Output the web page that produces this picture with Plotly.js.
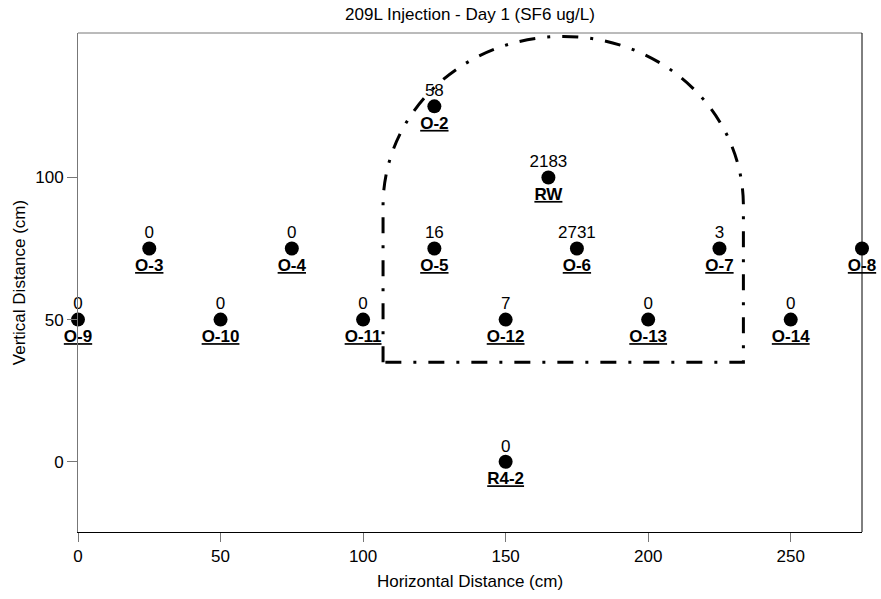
<!DOCTYPE html>
<html>
<head>
<meta charset="utf-8">
<script src="https://cdn.plot.ly/plotly-3.0.1.min.js"></script>
<style>html,body{margin:0;padding:0;background:#fff;}#chart{width:881px;height:599px;}</style>
</head>
<body>
<div id="chart"></div>
<script>
// Well names, positions (cm) and SF6 concentrations (ug/L)
var wellNames = ["O-2","RW","O-3","O-4","O-5","O-6","O-7","O-8","O-9","O-10","O-11","O-12","O-13","O-14","R4-2"];
var wellX     = [125, 165, 25, 75, 125, 175, 225, 275, 0, 50, 100, 150, 200, 250, 150];
var wellY     = [125, 100, 75, 75, 75, 75, 75, 75, 50, 50, 50, 50, 50, 50, 0];
var sf6Values = ["58","2183","0","0","16","2731","3","","0","0","0","7","0","0","0"];

// Zone outline (dash-dot): rectangle bottom with elliptical top
var zoneLeft = 107, zoneRight = 233.4, zoneBottom = 35, zoneArcBase = 90, zoneTop = 149.6;

var xTicks = [0, 50, 100, 150, 200, 250];
var yTicks = [0, 50, 100];

var FONT = "Liberation Sans, Arial, sans-serif";
var FS = 17;

var cx = (zoneLeft + zoneRight) / 2;
var ra = (zoneRight - zoneLeft) / 2;
var rb = zoneTop - zoneArcBase;
var k = 0.5523;
var zonePath = "M " + zoneLeft + "," + zoneBottom +
  " L " + zoneLeft + "," + zoneArcBase +
  " C " + zoneLeft + "," + (zoneArcBase + k * rb) + " " + (cx - k * ra) + "," + zoneTop + " " + cx + "," + zoneTop +
  " C " + (cx + k * ra) + "," + zoneTop + " " + zoneRight + "," + (zoneArcBase + k * rb) + " " + zoneRight + "," + zoneArcBase +
  " L " + zoneRight + "," + zoneBottom + " Z";

var markerTrace = {
  x: wellX, y: wellY,
  type: "scatter", mode: "markers",
  marker: {color: "#000", size: 14},
  hoverinfo: "skip", cliponaxis: false
};
var valueTrace = {
  x: wellX, y: wellY, text: sf6Values,
  type: "scatter", mode: "markers+text",
  marker: {color: "rgba(0,0,0,0)", size: 8},
  textposition: "top center",
  textfont: {family: FONT, size: FS, color: "#000"},
  hoverinfo: "skip", cliponaxis: false
};
var nameTrace = {
  x: wellX, y: wellY,
  text: wellNames.map(function(n){ return "<b><u>" + n + "</u></b>"; }),
  type: "scatter", mode: "markers+text",
  marker: {color: "rgba(0,0,0,0)", size: 14},
  textposition: "bottom center",
  textfont: {family: FONT, size: FS, color: "#000"},
  hoverinfo: "skip", cliponaxis: false
};

var layout = {
  width: 881, height: 599,
  margin: {l: 78, r: 19, t: 33, b: 67},
  paper_bgcolor: "#fff", plot_bgcolor: "#fff",
  showlegend: false,
  font: {family: FONT, size: FS, color: "#000"},
  title: {text: "209L Injection - Day 1 (SF6 ug/L)", font: {family: FONT, size: FS, color: "#000"},
          x: 0.5335, xanchor: "center", y: 0.977, yanchor: "middle"},
  xaxis: {
    range: [0, 275], tickvals: xTicks, ticktext: xTicks.map(String),
    showgrid: false, zeroline: false, showline: true, linecolor: "#000", linewidth: 1,
    ticks: "outside", ticklen: 9, tickcolor: "#777", tickwidth: 1,
    tickfont: {family: FONT, size: FS, color: "#000"},
    title: {text: "Horizontal Distance (cm)", font: {family: FONT, size: FS, color: "#000"}, standoff: 9}
  },
  yaxis: {
    range: [-24.7, 150.8], tickvals: yTicks, ticktext: yTicks.map(String),
    showgrid: false, zeroline: false, showline: true, linecolor: "#777", linewidth: 1,
    ticks: "outside", ticklen: 10, tickcolor: "#777", tickwidth: 1,
    tickfont: {family: FONT, size: FS, color: "#000"},
    title: {text: "Vertical Distance (cm)", font: {family: FONT, size: FS, color: "#000"}, standoff: 5}
  },
  shapes: [
    {type: "line", xref: "paper", yref: "paper", x0: 0, x1: 1, y0: 1, y1: 1, line: {color: "#777", width: 1}},
    {type: "line", xref: "paper", yref: "paper", x0: 1, x1: 1, y0: 0, y1: 1, line: {color: "#000", width: 1}},
    {type: "path", xref: "x", yref: "y", path: zonePath, line: {color: "#000", width: 3, dash: "16px,12px,3px,12px"}, layer: "above"}
  ]
};

Plotly.newPlot("chart", [markerTrace, valueTrace, nameTrace], layout, {displayModeBar: false, staticPlot: true});
</script>
</body>
</html>
